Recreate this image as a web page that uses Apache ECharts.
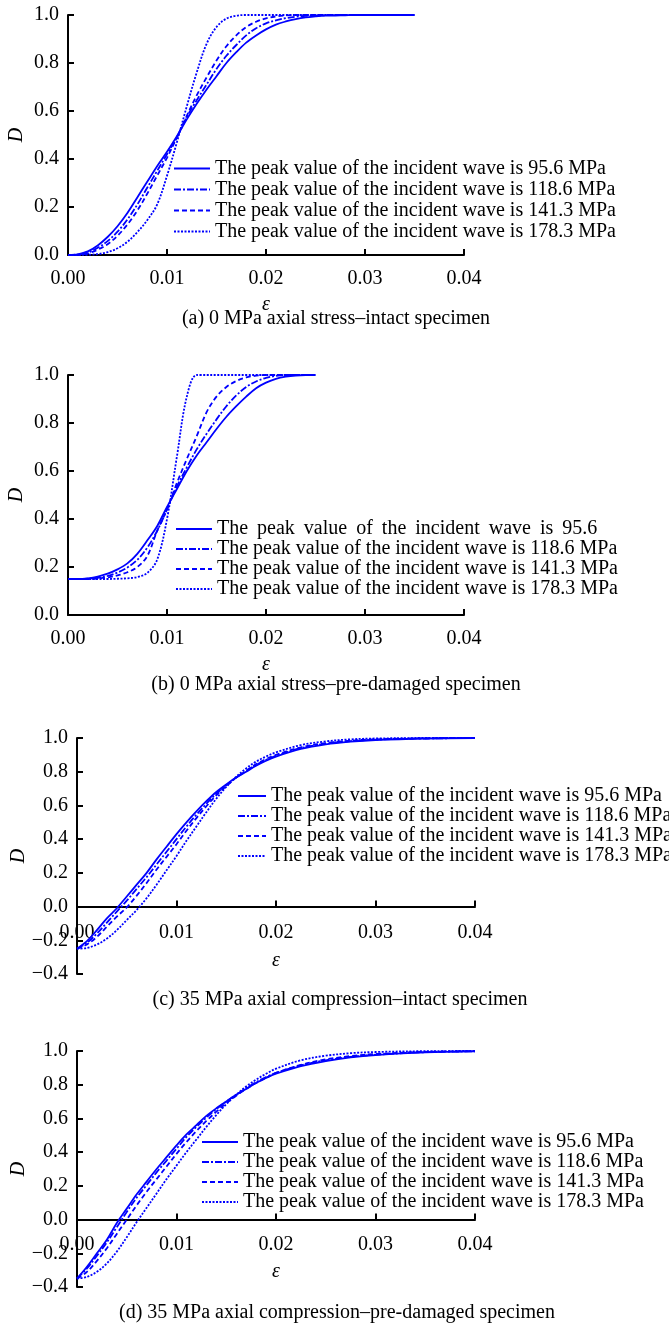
<!DOCTYPE html>
<html>
<head>
<meta charset="utf-8">
<script src="https://cdn.jsdelivr.net/npm/echarts@6/dist/echarts.min.js"></script>
<style>
  html, body { margin: 0; padding: 0; background: #fff; }
  #chart { width: 669px; height: 1325px; }
</style>
</head>
<body>
<div id="chart"></div>
<script>
  // strain values
  var strainA = [0, 0.001, 0.002, 0.003, 0.004, 0.005, 0.006, 0.007, 0.008, 0.009, 0.010, 0.011, 0.012,
    0.013, 0.014, 0.015, 0.016, 0.017, 0.018, 0.019, 0.020, 0.021, 0.022, 0.023, 0.024, 0.025,
    0.026, 0.027, 0.028, 0.029, 0.030, 0.031, 0.032, 0.033, 0.034, 0.035];
  var strainB = [0, 0.001, 0.002, 0.003, 0.004, 0.005, 0.006, 0.007, 0.008, 0.009, 0.010, 0.011, 0.012,
    0.013, 0.014, 0.015, 0.016, 0.017, 0.018, 0.019, 0.020, 0.021, 0.022, 0.023, 0.024, 0.025];
  var strainCD = [0, 0.001, 0.002, 0.003, 0.004, 0.005, 0.006, 0.007, 0.008, 0.009, 0.010, 0.011, 0.012,
    0.013, 0.014, 0.015, 0.016, 0.017, 0.018, 0.019, 0.020, 0.0225, 0.025, 0.0275, 0.030, 0.035, 0.040];

  // (a) 0 MPa, intact
  var dA1 = [0, 0.003, 0.015, 0.04, 0.075, 0.12, 0.175, 0.24, 0.305, 0.37, 0.43, 0.495, 0.565, 0.63, 0.69,
    0.745, 0.80, 0.845, 0.885, 0.915, 0.94, 0.96, 0.973, 0.983, 0.99, 0.994, 0.997, 0.998, 0.999, 1, 1, 1, 1, 1, 1, 1];
  var dA2 = [0, 0.002, 0.01, 0.03, 0.058, 0.097, 0.148, 0.21, 0.28, 0.35, 0.42, 0.49, 0.575, 0.645, 0.71,
    0.775, 0.83, 0.875, 0.915, 0.945, 0.965, 0.978, 0.987, 0.993, 0.996, 0.998, 0.999, 1, 1, 1, 1, 1, 1, 1, 1, 1];
  var dA3 = [0, 0.001, 0.007, 0.022, 0.045, 0.08, 0.127, 0.185, 0.255, 0.33, 0.405, 0.49, 0.58, 0.665, 0.74,
    0.81, 0.87, 0.915, 0.95, 0.972, 0.986, 0.994, 0.998, 1, 1, 1, 1, 1, 1, 1, 1, 1, 1, 1, 1, 1];
  var dA4 = [0, 0, 0.001, 0.004, 0.012, 0.028, 0.055, 0.095, 0.145, 0.21, 0.33, 0.47, 0.62, 0.76, 0.88,
    0.95, 0.985, 0.997, 1, 1, 1, 1, 1, 1, 1, 1, 1, 1, 1, 1, 1, 1, 1, 1, 1, 1];

  // (b) 0 MPa, pre-damaged
  var dB1 = [0.15, 0.15, 0.153, 0.16, 0.172, 0.19, 0.215, 0.255, 0.31, 0.37, 0.45, 0.525, 0.60, 0.665, 0.72,
    0.775, 0.826, 0.87, 0.91, 0.945, 0.968, 0.984, 0.993, 0.998, 1, 1];
  var dB2 = [0.15, 0.15, 0.151, 0.155, 0.163, 0.177, 0.198, 0.23, 0.28, 0.35, 0.44, 0.535, 0.615, 0.69, 0.755,
    0.815, 0.87, 0.915, 0.95, 0.973, 0.988, 0.996, 1, 1, 1, 1];
  var dB3 = [0.15, 0.15, 0.15, 0.152, 0.157, 0.165, 0.178, 0.20, 0.245, 0.35, 0.44, 0.55, 0.65, 0.745, 0.845,
    0.91, 0.95, 0.975, 0.99, 0.997, 1, 1, 1, 1, 1, 1];
  var dB4 = [0.15, 0.15, 0.15, 0.15, 0.15, 0.151, 0.153, 0.158, 0.175, 0.23, 0.40, 0.66, 0.91, 1, 1,
    1, 1, 1, 1, 1, 1, 1, 1, 1, 1, 1];

  // (c) 35 MPa, intact
  var dC1 = [-0.25, -0.205, -0.14, -0.07, -0.01, 0.06, 0.13, 0.20, 0.28, 0.355, 0.43, 0.50, 0.565, 0.625,
    0.68, 0.725, 0.765, 0.80, 0.835, 0.865, 0.89, 0.935, 0.962, 0.978, 0.988, 0.997, 1];
  var dC2 = [-0.25, -0.215, -0.16, -0.095, -0.03, 0.035, 0.105, 0.175, 0.25, 0.325, 0.40, 0.475, 0.545, 0.61,
    0.67, 0.72, 0.765, 0.805, 0.84, 0.87, 0.895, 0.94, 0.966, 0.981, 0.99, 0.997, 1];
  var dC3 = [-0.25, -0.225, -0.18, -0.12, -0.06, -0.005, 0.065, 0.14, 0.22, 0.295, 0.37, 0.45, 0.525, 0.595,
    0.66, 0.715, 0.765, 0.805, 0.845, 0.875, 0.90, 0.945, 0.97, 0.984, 0.992, 0.998, 1];
  var dC4 = [-0.25, -0.245, -0.225, -0.19, -0.14, -0.08, -0.02, 0.05, 0.13, 0.215, 0.30, 0.39, 0.475, 0.56,
    0.64, 0.71, 0.77, 0.82, 0.86, 0.89, 0.915, 0.958, 0.98, 0.992, 0.997, 1, 1];

  // (d) 35 MPa, pre-damaged
  var dD1 = [-0.35, -0.28, -0.2, -0.12, -0.02, 0.065, 0.15, 0.225, 0.30, 0.37, 0.44, 0.505, 0.56, 0.615,
    0.66, 0.70, 0.74, 0.775, 0.81, 0.84, 0.865, 0.91, 0.94, 0.962, 0.976, 0.992, 0.998];
  var dD2 = [-0.35, -0.29, -0.215, -0.135, -0.045, 0.045, 0.13, 0.205, 0.28, 0.35, 0.42, 0.49, 0.55, 0.605,
    0.655, 0.70, 0.74, 0.78, 0.815, 0.845, 0.87, 0.915, 0.945, 0.965, 0.978, 0.993, 0.998];
  var dD3 = [-0.35, -0.31, -0.245, -0.17, -0.085, 0, 0.085, 0.165, 0.24, 0.315, 0.39, 0.46, 0.525, 0.585,
    0.64, 0.69, 0.735, 0.775, 0.81, 0.84, 0.87, 0.918, 0.95, 0.97, 0.982, 0.995, 0.999];
  var dD4 = [-0.35, -0.34, -0.31, -0.26, -0.19, -0.105, -0.015, 0.07, 0.155, 0.24, 0.32, 0.40, 0.475, 0.55,
    0.62, 0.685, 0.74, 0.79, 0.83, 0.865, 0.895, 0.945, 0.972, 0.987, 0.994, 0.999, 1];

  var waveNames = [
    'The peak value of the incident wave is 95.6 MPa',
    'The peak value of the incident wave is 118.6 MPa',
    'The peak value of the incident wave is 141.3 MPa',
    'The peak value of the incident wave is 178.3 MPa'
  ];
  // first entry of (b) is printed without the unit and spread out
  var waveNameB1 = 'The peak value of the incident wave is 95.6'.split(' ').join(' \u2009');
  var captions = [
    '(a) 0 MPa axial stress\u2013intact specimen',
    '(b) 0 MPa axial stress\u2013pre-damaged specimen',
    '(c) 35 MPa axial compression\u2013intact specimen',
    '(d) 35 MPa axial compression\u2013pre-damaged specimen'
  ];

  var serif = '"Liberation Serif", "Times New Roman", serif';
  var blue = '#0000ff';
  var lineTypes = ['solid', [7, 2, 2, 2], [5, 3], [2, 1.5]];

  function pairs(xs, ys) {
    return xs.map(function (x, i) { return [x, ys[i]]; });
  }
  function fmtY(v) {
    if (Math.abs(v) < 1e-9) return '0.0';
    return v.toFixed(1).replace('-', '\u2212');
  }

  var panels = [
    { x: strainA, ys: [dA1, dA2, dA3, dA4], names: waveNames, yMin: 0,
      grid: { left: 68, top: 15, width: 396, height: 240 }, labelMargin: 14, epsGap: 40, dGap: 41,
      legend: { left: 173, top: 158, itemWidth: 36, lh: 21 }, cap: [336, 319] },
    { x: strainB, ys: [dB1, dB2, dB3, dB4], names: [waveNameB1, waveNames[1], waveNames[2], waveNames[3]], yMin: 0,
      grid: { left: 68, top: 375, width: 396, height: 240 }, labelMargin: 14, epsGap: 40, dGap: 41,
      legend: { left: 175, top: 519, itemWidth: 36, lh: 20 }, cap: [336, 685] },
    { x: strainCD, ys: [dC1, dC2, dC3, dC4], names: waveNames, yMin: -0.4,
      grid: { left: 77, top: 738, width: 398, height: 236 }, labelMargin: 16, epsGap: 44, dGap: 48,
      legend: { left: 237, top: 786, itemWidth: 28, lh: 19 }, cap: [340, 1000] },
    { x: strainCD, ys: [dD1, dD2, dD3, dD4], names: waveNames, yMin: -0.4,
      grid: { left: 77, top: 1051, width: 398, height: 236 }, labelMargin: 15, epsGap: 42, dGap: 48,
      legend: { left: 201, top: 1132, itemWidth: 36, lh: 20 }, cap: [337, 1313] }
  ];

  var option = {
    backgroundColor: '#fff',
    animation: false,
    grid: [], xAxis: [], yAxis: [], series: [], legend: [], graphic: []
  };

  panels.forEach(function (p, k) {
    var g = p.grid;
    g.outerBoundsMode = 'none';
    option.grid.push(g);
    // the strain axis sits on D = 0
    var zeroShift = -g.height * (-p.yMin) / (1 - p.yMin);
    option.xAxis.push({
      type: 'value', gridIndex: k, min: 0, max: 0.04, interval: 0.01, offset: zeroShift,
      name: '\u03b5', nameLocation: 'middle', nameGap: p.epsGap, nameMoveOverlap: false,
      nameTextStyle: { fontFamily: serif, fontStyle: 'italic', fontSize: 20, color: '#000' },
      axisLine: { onZero: false, lineStyle: { color: '#000', width: 2 } },
      axisTick: { inside: true, length: 6, lineStyle: { color: '#000', width: 2 } },
      axisLabel: { margin: p.labelMargin, fontFamily: serif, fontSize: 20, color: '#000',
        formatter: function (v) { return v.toFixed(2); } },
      splitLine: { show: false }
    });
    option.yAxis.push({
      type: 'value', gridIndex: k, min: p.yMin, max: 1, interval: 0.2,
      name: 'D', nameLocation: 'middle', nameGap: p.dGap, nameMoveOverlap: false,
      nameTextStyle: { fontFamily: serif, fontStyle: 'italic', fontSize: 20, color: '#000' },
      axisLine: { show: true, onZero: false, lineStyle: { color: '#000', width: 2 } },
      axisTick: { show: true, inside: true, length: 6, lineStyle: { color: '#000', width: 2 } },
      axisLabel: { margin: 9, fontFamily: serif, fontSize: 20, color: '#000', formatter: fmtY },
      splitLine: { show: false }
    });
    p.ys.forEach(function (ys, j) {
      option.series.push({
        type: 'line', name: p.names[j], xAxisIndex: k, yAxisIndex: k,
        data: pairs(p.x, ys), smooth: 0.35, symbol: 'none',
        lineStyle: { color: blue, width: 1.8, type: lineTypes[j] },
        itemStyle: { color: blue }
      });
    });
    option.legend.push({
      orient: 'vertical', left: p.legend.left, top: p.legend.top, padding: 0,
      itemWidth: p.legend.itemWidth, itemHeight: 12, itemGap: 0, selectedMode: false,
      itemStyle: { opacity: 0 },
      data: p.names,
      textStyle: { fontFamily: serif, fontSize: 20, color: '#000', lineHeight: p.legend.lh }
    });
    option.graphic.push({
      type: 'text', x: p.cap[0], y: p.cap[1],
      style: { text: captions[k], font: '20px ' + serif, fill: '#000',
        textAlign: 'center', textVerticalAlign: 'middle' }
    });
  });

  var myChart = echarts.init(document.getElementById('chart'));
  myChart.setOption(option);
</script>
</body>
</html>
